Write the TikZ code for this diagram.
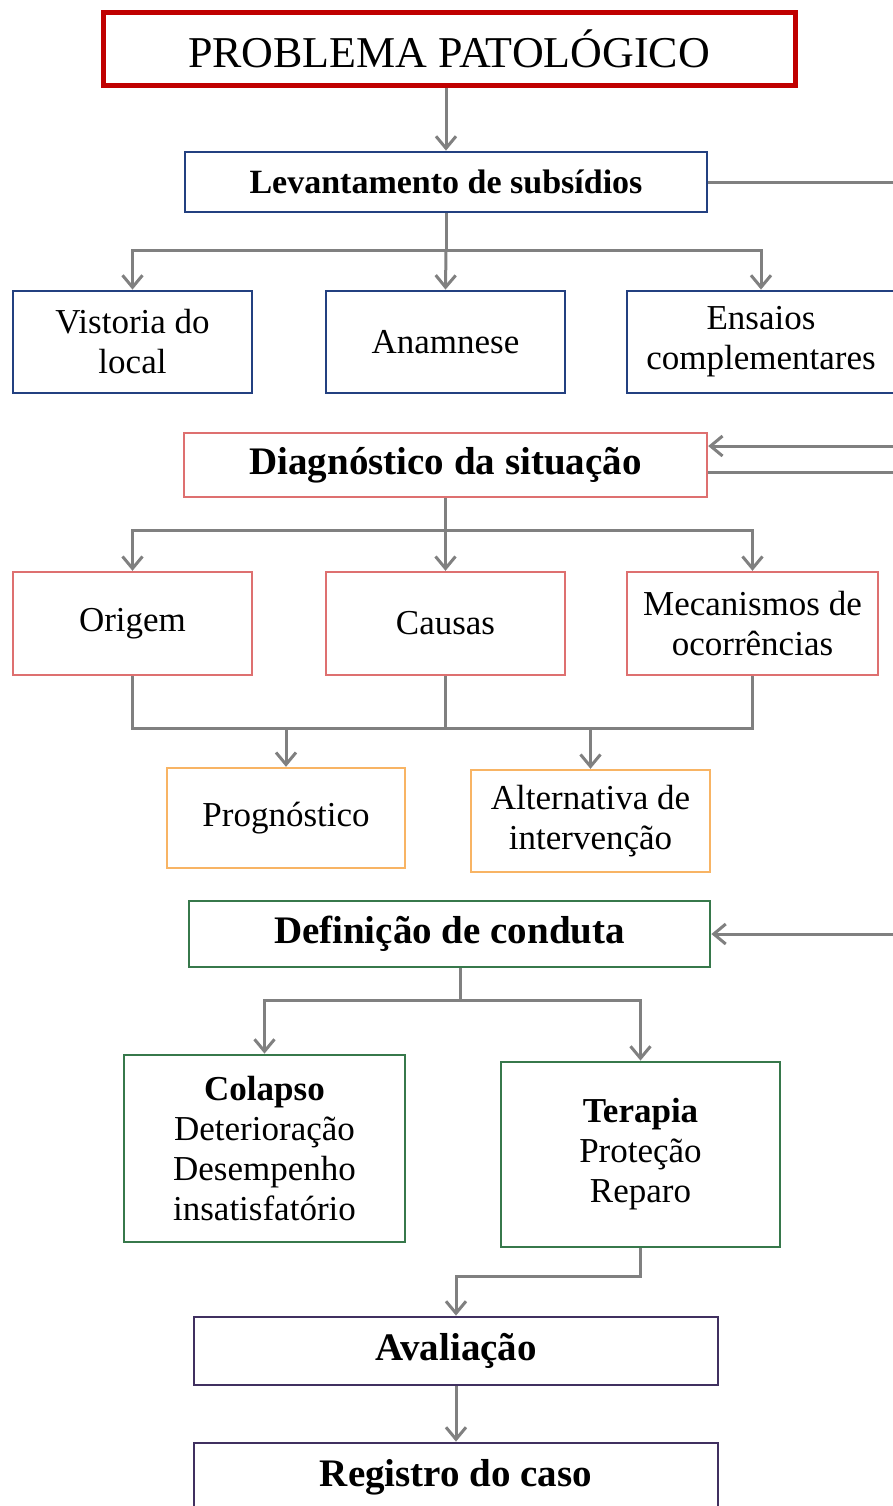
\documentclass[tikz,border=0pt]{standalone}
\usepackage{fontspec}
\setmainfont{Liberation Serif}
\usetikzlibrary{arrows.meta}
\definecolor{redb}{RGB}{192,0,0}
\definecolor{blueb}{RGB}{35,64,128}
\definecolor{pinkb}{RGB}{222,112,112}
\definecolor{orangeb}{RGB}{248,180,100}
\definecolor{greenb}{RGB}{55,120,75}
\definecolor{purpleb}{RGB}{64,48,96}
\definecolor{linegray}{RGB}{128,128,128}
\newcommand{\fsz}[2]{\fontsize{#1}{#2}\selectfont}

\begin{document}
\begin{tikzpicture}[x=.5pt,y=-.5pt,>={Straight Barb[length=6pt,width=10pt]},
 box/.style={draw,rectangle,inner sep=0pt,align=center,line width=1.4pt,font=\fsz{17.5}{20}},
 hd/.style={box,font=\bfseries\fsz{19.5}{22}},
 ln/.style={draw=linegray,line width=1.5pt},
 ar/.style={ln,->}]
 \useasboundingbox (0,0) rectangle (893,1506);
 \node[box,draw=redb,line width=2.5pt,minimum width=346pt,minimum height=36.5pt,font=\fsz{22}{26}] (prob) at (449,48.5) {PROBLEMA PATOLÓGICO};
 \node[hd,draw=blueb,minimum width=261pt,minimum height=30pt,font=\bfseries\fsz{17}{20}] (lev) at (446,182) {Levantamento de subsídios};
 \node[box,draw=blueb,minimum width=119.5pt,minimum height=51pt] (vis) at (132.5,342) {Vistoria do\\local};
 \node[box,draw=blueb,minimum width=119.5pt,minimum height=51pt] (ana) at (445.5,342) {Anamnese};
 \node[box,draw=blueb,minimum width=134pt,minimum height=51pt] (ens) at (761,342) {Ensaios\\complementares};
 \node[hd,draw=pinkb,line width=1.2pt,minimum width=261.5pt,minimum height=32pt] (diag) at (445.5,465) {Diagnóstico da situação};
 \node[box,draw=pinkb,line width=1.2pt,minimum width=119.5pt,minimum height=51.5pt] (ori) at (132.5,623.5) {Origem};
 \node[box,draw=pinkb,line width=1.2pt,minimum width=119.5pt,minimum height=51.5pt] (cau) at (445.5,623.5) {Causas};
 \node[box,draw=pinkb,line width=1.2pt,minimum width=125.5pt,minimum height=51.5pt] (mec) at (752.5,623.5) {Mecanismos de\\ocorrências};
 \node[box,draw=orangeb,line width=1.2pt,minimum width=119pt,minimum height=50pt] (prog) at (286,818) {Prognóstico};
 \node[box,draw=orangeb,line width=1.2pt,minimum width=119.5pt,minimum height=51pt] (alt) at (590.5,821) {Alternativa de\\intervenção};
 \node[hd,draw=greenb,minimum width=260.5pt,minimum height=33pt] (def) at (449.5,934) {Definição de conduta};
 \node[box,draw=greenb,minimum width=140.5pt,minimum height=93.5pt] (col) at (264.5,1148.5) {\textbf{Colapso}\\Deterioração\\Desempenho\\insatisfatório};
 \node[box,draw=greenb,minimum width=139.5pt,minimum height=92.5pt] (ter) at (640.5,1154.5) {\textbf{Terapia}\\Proteção\\Reparo};
 \node[hd,draw=purpleb,minimum width=262pt,minimum height=34pt] (aval) at (456,1351) {Avaliação};
 \node[hd,draw=purpleb,minimum width=262pt,minimum height=34pt] (reg) at (456,1477) {Registro do caso};

 \coordinate (j1) at (446,250);
 \coordinate (j2) at (445.5,530);
 \coordinate (j3) at (445.5,728);
 \coordinate (j4) at (460,1000);
 \coordinate (fb1) at (895,182);
 \coordinate (fb2) at (895,446);
 \coordinate (fb3) at (895,472);
 \coordinate (fb4) at (895,934);

 \draw[ar] (prob.south -| lev) -- (lev.north);
 \draw[ln] (lev.south) -- (j1);
 \draw[ar] (j1) -| (vis.north);
 \draw[ar] (j1) -- (ana.north);
 \draw[ar] (j1) -| (ens.north);
 \draw[ln] (lev.east) -- (fb1);

 \draw[ar] (fb2) -- (fb2 -| diag.east);
 \draw[ln] (fb3 -| diag.east) -- (fb3);
 \draw[ln] (diag.south) -- (j2);
 \draw[ar] (j2) -| (ori.north);
 \draw[ar] (j2) -- (cau.north);
 \draw[ar] (j2) -| (mec.north);

 \draw[ln] (ori.south) |- (j3) -| (mec.south);
 \draw[ln] (cau.south) -- (j3);
 \draw[ar] (j3 -| prog) -- (prog.north);
 \draw[ar] (j3 -| alt) -- (alt.north);

 \draw[ar] (fb4) -- (def.east);
 \draw[ln] (def.south -| j4) -- (j4);
 \draw[ar] (j4) -| (col.north);
 \draw[ar] (j4) -| (ter.north);

 \draw[ar] (ter.south) -- ++(0,28) -| (aval.north);
 \draw[ar] (aval.south) -- (reg.north);
\end{tikzpicture}
\end{document}
